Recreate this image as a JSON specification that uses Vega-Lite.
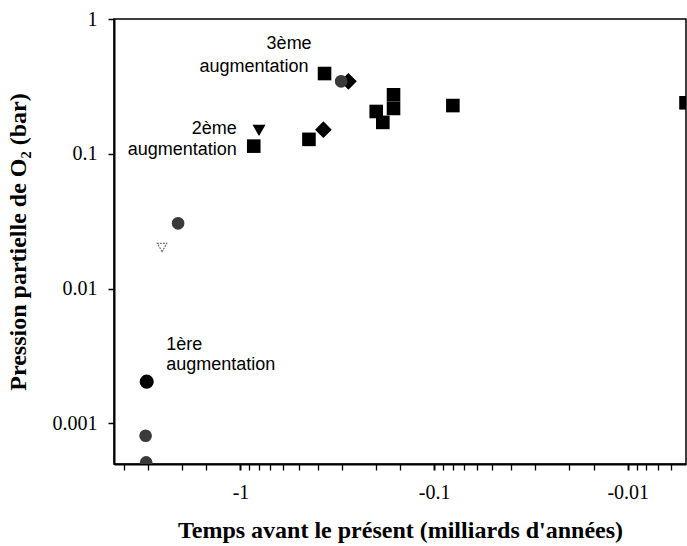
{
  "$schema": "https://vega.github.io/schema/vega-lite/v6.json",
  "width": 572,
  "height": 445,
  "autosize": {"type": "none"},
  "padding": {"left": 114, "top": 19, "right": 1, "bottom": 82},
  "background": "white",
  "config": {
    "view": {"stroke": "black", "strokeWidth": 1.5},
    "font": "Liberation Serif"
  },
  "datasets": {
    "points": [
      {"t": -0.368, "p": 0.394, "type": "carré"},
      {"t": -0.854, "p": 0.114, "type": "carré"},
      {"t": -0.443, "p": 0.128, "type": "carré"},
      {"t": -0.162, "p": 0.274, "type": "carré"},
      {"t": -0.162, "p": 0.217, "type": "carré"},
      {"t": -0.199, "p": 0.206, "type": "carré"},
      {"t": -0.184, "p": 0.171, "type": "carré"},
      {"t": -0.080, "p": 0.228, "type": "carré"},
      {"t": -0.005, "p": 0.239, "type": "carré"},
      {"t": -0.802, "p": 0.149, "type": "triangle"},
      {"t": -0.373, "p": 0.151, "type": "losange"},
      {"t": -0.277, "p": 0.345, "type": "losange"},
      {"t": -0.302, "p": 0.345, "type": "cercle gris"},
      {"t": -3.05, "p": 0.00204, "type": "cercle"},
      {"t": -3.09, "p": 0.00081, "type": "cercle gris"},
      {"t": -3.07, "p": 0.000514, "type": "cercle gris"},
      {"t": -2.1, "p": 0.0305, "type": "cercle gris"}
    ],
    "hollow": [
      {"t": -2.54, "p": 0.0202, "type": "triangle vide"}
    ],
    "notesRight": [
      {"t": -0.429, "p": 0.656, "txt": "3ème"},
      {"t": -0.445, "p": 0.443, "txt": "augmentation"},
      {"t": -1.045, "p": 0.154, "txt": "2ème"},
      {"t": -1.045, "p": 0.106, "txt": "augmentation"}
    ],
    "notesLeft": [
      {"t": -2.42, "p": 0.0038, "txt": "1ère"},
      {"t": -2.42, "p": 0.0027, "txt": "augmentation"}
    ]
  },
  "layer": [
    {
      "data": {"name": "points"},
      "mark": {"type": "point", "filled": true, "opacity": 1, "clip": true},
      "encoding": {
        "x": {
          "field": "t",
          "type": "quantitative",
          "scale": {"type": "log", "domain": [-4.5, -0.005], "nice": false},
          "axis": {
            "values": [-4, -3, -2, -1.5, -1, -0.9, -0.8, -0.7, -0.6, -0.5, -0.4, -0.3, -0.2, -0.15, -0.1, -0.09, -0.08, -0.07, -0.06, -0.05, -0.04, -0.03, -0.02, -0.015, -0.01, -0.009, -0.008, -0.007, -0.006],
            "labelExpr": "datum.value == -1 ? '-1' : datum.value == -0.1 ? '-0.1' : datum.value == -0.01 ? '-0.01' : ''",
            "labelOverlap": false,
            "labelBound": false,
            "labelFont": "Liberation Serif",
            "labelFontSize": 20,
            "labelColor": "black",
            "labelPadding": 12,
            "tickSize": 6,
            "tickWidth": {"condition": {"test": "datum.value == -1 || datum.value == -0.1 || datum.value == -0.01", "value": 2}, "value": 1.3},
            "tickColor": "black",
            "domainColor": "black",
            "domainWidth": 2,
            "grid": false,
            "title": "Temps avant le présent (milliards d'années)",
            "titleFont": "Liberation Serif",
            "titleFontSize": 24,
            "titleFontWeight": "bold",
            "titleColor": "black",
            "titleX": 286,
            "titleY": 73,
            "titleAlign": "center",
            "titleBaseline": "alphabetic"
          }
        },
        "y": {
          "field": "p",
          "type": "quantitative",
          "scale": {"type": "log", "domain": [0.0005, 1], "nice": false},
          "axis": {
            "values": [1, 0.1, 0.01, 0.001],
            "labelExpr": "format(datum.value, '~g')",
            "labelFont": "Liberation Serif",
            "labelFontSize": 20,
            "labelColor": "black",
            "labelPadding": 11,
            "tickSize": 6,
            "tickWidth": 1.5,
            "tickColor": "black",
            "domainColor": "black",
            "domainWidth": 2,
            "grid": false,
            "title": "Pression partielle de O₂ (bar)",
            "titleFont": "Liberation Serif",
            "titleFontSize": 24,
            "titleFontWeight": "bold",
            "titleColor": "black",
            "titleX": -96,
            "titleY": 222.5,
            "titleAngle": 270,
            "titleAlign": "center",
            "titleBaseline": "middle"
          }
        },
        "shape": {
          "field": "type",
          "type": "nominal",
          "scale": {"domain": ["carré", "triangle", "losange", "cercle", "cercle gris"], "range": ["square", "triangle-down", "diamond", "circle", "circle"]},
          "legend": null
        },
        "color": {
          "field": "type",
          "type": "nominal",
          "scale": {"domain": ["carré", "triangle", "losange", "cercle", "cercle gris"], "range": ["#000000", "#000000", "#000000", "#000000", "#3a3a3a"]},
          "legend": null
        },
        "size": {
          "field": "type",
          "type": "nominal",
          "scale": {"type": "ordinal", "domain": ["carré", "triangle", "losange", "cercle", "cercle gris"], "range": [185, 170, 280, 200, 160]},
          "legend": null
        }
      }
    },
    {
      "data": {"name": "hollow"},
      "mark": {"type": "point", "shape": "triangle-down", "filled": false, "stroke": "#777777", "strokeWidth": 1.2, "strokeDash": [2, 1], "size": 90, "opacity": 1},
      "encoding": {
        "x": {"field": "t", "type": "quantitative"},
        "y": {"field": "p", "type": "quantitative"}
      }
    },
    {
      "data": {"name": "notesRight"},
      "mark": {"type": "text", "font": "Liberation Sans", "fontSize": 18, "color": "black", "baseline": "middle", "align": "right"},
      "encoding": {
        "x": {"field": "t", "type": "quantitative"},
        "y": {"field": "p", "type": "quantitative"},
        "text": {"field": "txt"}
      }
    },
    {
      "data": {"name": "notesLeft"},
      "mark": {"type": "text", "font": "Liberation Sans", "fontSize": 18, "color": "black", "baseline": "middle", "align": "left"},
      "encoding": {
        "x": {"field": "t", "type": "quantitative"},
        "y": {"field": "p", "type": "quantitative"},
        "text": {"field": "txt"}
      }
    }
  ]
}
